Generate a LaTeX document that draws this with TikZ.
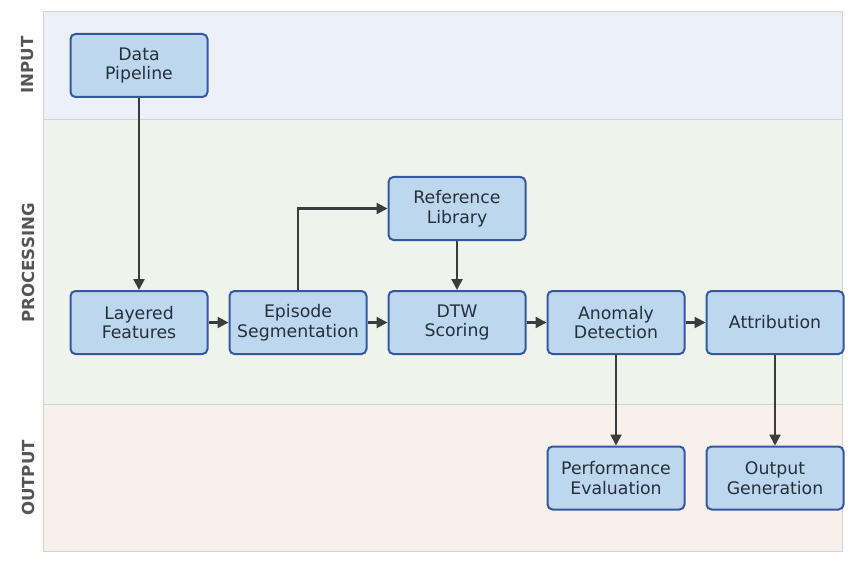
\documentclass[tikz,border=0pt]{standalone}
\usepackage{fontspec}
\setmainfont{DejaVu Sans}
\usetikzlibrary{arrows.meta}
\definecolor{boxfill}{HTML}{BDD7EE}
\definecolor{boxdraw}{HTML}{3556A0}
\definecolor{boxtext}{HTML}{26303D}
\definecolor{arrowc}{HTML}{3C3C3C}
\definecolor{laneIn}{HTML}{ECF1F9}
\definecolor{laneProc}{HTML}{EEF4EC}
\definecolor{laneOut}{HTML}{F8F0EA}
\definecolor{laneBorder}{HTML}{D3D3D3}
\definecolor{laneText}{HTML}{555555}
\begin{document}
\begin{tikzpicture}[x=1pt,y=-1pt,
  procbox/.style={draw=boxdraw, fill=boxfill, line width=2pt, rounded corners=5pt,
    minimum width=137pt, minimum height=63pt, align=center, text=boxtext,
    font=\fontsize{17.3}{19.5}\selectfont, inner sep=2pt},
  flow/.style={draw=arrowc, line width=2.3pt, -{Triangle[length=11pt,width=11pt]}},
  lanelabel/.style={rotate=90, text=laneText, font=\fontsize{16.6}{19}\selectfont\bfseries},
  lane/.style={draw=laneBorder, line width=0.8pt}
]
\useasboundingbox (0,0) rectangle (856,564);
% lanes
\path[lane, fill=laneIn] (43,11) rectangle (842,119);
\path[lane, fill=laneProc] (43,119) rectangle (842,404);
\path[lane, fill=laneOut] (43,404) rectangle (842,551);
\node[lanelabel] (lin) at (28,65) {INPUT};
\node[lanelabel] (lproc) at (28,263) {PROCESSING};
\node[lanelabel] (lout) at (28,478) {OUTPUT};
% boxes
\node[procbox] (dp) at (139,65.5) {Data\\Pipeline};
\node[procbox] (lf) at (139,322.5) {Layered\\Features};
\node[procbox] (es) at (298,322.5) {Episode\\Segmentation};
\node[procbox] (rl) at (457,208.5) {Reference\\Library};
\node[procbox] (dtw) at (457,322.5) {DTW\\Scoring};
\node[procbox] (ad) at (616,322.5) {Anomaly\\Detection};
\node[procbox] (at) at (775,322.5) {Attribution};
\node[procbox] (pe) at (616,478) {Performance\\Evaluation};
\node[procbox] (og) at (775,478) {Output\\Generation};
% arrows
\draw[flow] (dp) -- (lf);
\draw[flow] (lf) -- (es);
\draw[flow] (es) -- (dtw);
\draw[flow] (dtw) -- (ad);
\draw[flow] (ad) -- (at);
\draw[flow] (rl) -- (dtw);
\draw[flow] (es.north) |- (rl.west);
\draw[flow] (ad) -- (pe);
\draw[flow] (at) -- (og);
\end{tikzpicture}
\end{document}
